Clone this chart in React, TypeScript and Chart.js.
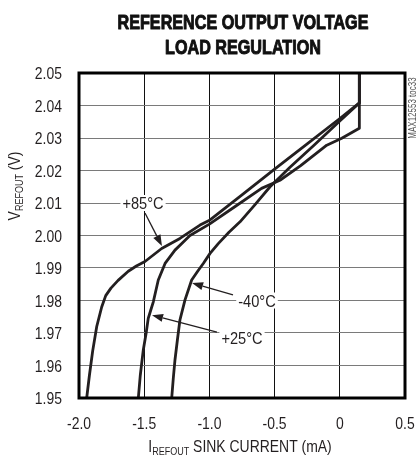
import React, { useEffect, useRef } from 'react';
import { Chart, registerables } from 'chart.js';

Chart.register(...registerables);

const FONT = "'Liberation Sans', Arial, sans-serif";
const SX = 0.82; // horizontal condensing of text (Helvetica Condensed look)

const titleLines = ['REFERENCE OUTPUT VOLTAGE', 'LOAD REGULATION'];
const sideCode = 'MAX12553 toc33';

const xTickValues = [-2.0, -1.5, -1.0, -0.5, 0, 0.5];
const xTickLabels = ['-2.0', '-1.5', '-1.0', '-0.5', '0', '0.5'];
const yTickValues = [1.95, 1.96, 1.97, 1.98, 1.99, 2.0, 2.01, 2.02, 2.03, 2.04, 2.05];
const yTickLabels = ['1.95', '1.96', '1.97', '1.98', '1.99', '2.00', '2.01', '2.02', '2.03', '2.04', '2.05'];

// +85°C
const current85 = [-1.941, -1.92, -1.895, -1.864, -1.826, -1.795, -1.755, -1.70, -1.622, -1.56, -1.494, -1.43, -1.366, -1.226, -1.072, -0.995, -0.75, -0.5, -0.25, 0.0, 0.15, 0.15];
const vout85 = [1.95, 1.957, 1.9645, 1.972, 1.978, 1.9815, 1.9838, 1.9862, 1.989, 1.9906, 1.992, 1.994, 1.996, 1.9991, 2.0032, 2.0048, 2.0125, 2.0204, 2.0282, 2.036, 2.0408, 2.05];

// +25°C
const current25 = [-1.545, -1.53, -1.507, -1.485, -1.469, -1.45, -1.43, -1.392, -1.34, -1.264, -1.2, -1.149, -1.0, -0.8, -0.6, -0.459, -0.3, -0.1, 0.015, 0.15, 0.15];
const vout25 = [1.95, 1.957, 1.9648, 1.970, 1.9745, 1.977, 1.9796, 1.9863, 1.9914, 1.9955, 1.998, 2.0, 2.0035, 2.009, 2.0145, 2.017, 2.0215, 2.0278, 2.0299, 2.033, 2.05];

// -40°C
const currentM40 = [-1.289, -1.277, -1.264, -1.245, -1.226, -1.187, -1.136, -1.09, -1.047, -0.995, -0.932, -0.85, -0.765, -0.65, -0.535, -0.382, -0.2, 0.0, 0.15, 0.15];
const voutM40 = [1.95, 1.956, 1.9617, 1.968, 1.974, 1.9802, 1.9863, 1.989, 1.9914, 1.9945, 1.9975, 2.001, 2.0042, 2.0095, 2.015, 2.021, 2.0277, 2.0352, 2.0408, 2.05];

// annotations (data units)
const labelTexts = ['+85°C', '-40°C', '+25°C'];
const labelX = [-1.509, -0.635, -0.75];
const labelY = [2.01, 1.98, 1.9685];
const arrowTailX = [-1.494, -0.819, -0.942];
const arrowTailY = [2.0069, 1.9817, 1.9703];
const arrowTipX = [-1.364, -1.133, -1.44];
const arrowTipY = [1.9968, 1.9854, 1.9755];

const LINE_COLOR = '#231f20';
const TEXT_COLOR = '#231f20';

function toPoints(xs: number[], ys: number[]) {
  return xs.map((x, i) => ({ x, y: ys[i] }));
}

function textW(ctx: CanvasRenderingContext2D, t: string, font: string, sx = SX) {
  ctx.font = font;
  return ctx.measureText(t).width * sx;
}

// draw condensed text
function drawText(
  ctx: CanvasRenderingContext2D,
  t: string,
  x: number,
  y: number,
  font: string,
  align: 'left' | 'center' | 'right',
  baseline: CanvasTextBaseline = 'alphabetic',
  sx = SX,
  strokeW = 0
) {
  ctx.save();
  ctx.font = font;
  ctx.textAlign = align;
  ctx.textBaseline = baseline;
  ctx.translate(x, y);
  ctx.scale(sx, 1);
  ctx.fillText(t, 0, 0);
  if (strokeW > 0) {
    ctx.strokeStyle = ctx.fillStyle as string;
    ctx.lineWidth = strokeW;
    ctx.lineJoin = 'round';
    ctx.strokeText(t, 0, 0);
  }
  ctx.restore();
}

function drawSubText(
  ctx: CanvasRenderingContext2D,
  parts: { t: string; sub?: boolean }[],
  cx: number,
  cy: number,
  mainSize: number,
  subSize: number
) {
  const fontMain = `${mainSize}px ${FONT}`;
  const fontSub = `${subSize}px ${FONT}`;
  const widths = parts.map((p) => textW(ctx, p.t, p.sub ? fontSub : fontMain));
  const total = widths.reduce((a, b) => a + b, 0);
  let x = cx - total / 2;
  parts.forEach((p, i) => {
    drawText(ctx, p.t, x, cy + (p.sub ? mainSize * 0.2 : 0), p.sub ? fontSub : fontMain, 'left');
    x += widths[i];
  });
}

const decorPlugin = {
  id: 'decor',
  beforeDatasetsDraw(chart: any) {
    const { ctx, scales } = chart;
    const xs = scales.x;
    const ys = scales.y;
    const font = `17px ${FONT}`;
    ctx.save();
    labelTexts.forEach((t, i) => {
      const px = xs.getPixelForValue(labelX[i]);
      const py = ys.getPixelForValue(labelY[i]);
      const w = textW(ctx, t, font, 0.86);
      ctx.fillStyle = '#ffffff';
      ctx.fillRect(px - w / 2 - 2, py - 8, w + 4, 16);
      ctx.fillStyle = TEXT_COLOR;
      drawText(ctx, t, px, py + 6, font, 'center', 'alphabetic', 0.86);
    });
    ctx.restore();
  },
  afterDatasetsDraw(chart: any) {
    const { ctx, scales, chartArea } = chart;
    const xs = scales.x;
    const ys = scales.y;
    ctx.save();
    // arrows
    ctx.strokeStyle = '#231f20';
    ctx.fillStyle = '#231f20';
    ctx.lineWidth = 1.3;
    labelTexts.forEach((_, i) => {
      const x0 = xs.getPixelForValue(arrowTailX[i]);
      const y0 = ys.getPixelForValue(arrowTailY[i]);
      const x1 = xs.getPixelForValue(arrowTipX[i]);
      const y1 = ys.getPixelForValue(arrowTipY[i]);
      const ang = Math.atan2(y1 - y0, x1 - x0);
      const hl = 11;
      const hw = 4;
      const bx = x1 - hl * Math.cos(ang);
      const by = y1 - hl * Math.sin(ang);
      ctx.beginPath();
      ctx.moveTo(x0, y0);
      ctx.lineTo(bx, by);
      ctx.stroke();
      ctx.beginPath();
      ctx.moveTo(x1, y1);
      ctx.lineTo(bx + hw * Math.sin(ang), by - hw * Math.cos(ang));
      ctx.lineTo(bx - hw * Math.sin(ang), by + hw * Math.cos(ang));
      ctx.closePath();
      ctx.fill();
    });
    // frame
    ctx.strokeStyle = '#000';
    ctx.lineWidth = 3;
    ctx.strokeRect(chartArea.left, chartArea.top, chartArea.right - chartArea.left, chartArea.bottom - chartArea.top);
    ctx.restore();
  },
  afterDraw(chart: any) {
    const { ctx, chartArea, scales } = chart;
    const cx = (chartArea.left + chartArea.right) / 2;
    ctx.save();

    // title
    ctx.fillStyle = '#111';
    const tFont = `bold 21px ${FONT}`;
    drawText(ctx, titleLines[0], cx + 1, 29, tFont, 'center', 'alphabetic', 0.77, 1);
    drawText(ctx, titleLines[1], cx + 1, 54, tFont, 'center', 'alphabetic', 0.77, 1);

    // tick labels
    ctx.fillStyle = TEXT_COLOR;
    const tickFont = `17px ${FONT}`;
    xTickValues.forEach((v, i) => {
      const px = scales.x.getPixelForValue(v);
      drawText(ctx, xTickLabels[i], px, chartArea.bottom + 31, tickFont, 'center');
    });
    yTickValues.forEach((v, i) => {
      const py = scales.y.getPixelForValue(v);
      drawText(ctx, yTickLabels[i], chartArea.left - 17, py + 6, tickFont, 'right');
    });

    // x axis title
    drawSubText(
      ctx,
      [{ t: 'I' }, { t: 'REFOUT', sub: true }, { t: ' SINK CURRENT (mA)' }],
      cx - 2,
      452,
      17,
      11
    );

    // y axis title
    ctx.save();
    ctx.translate(20, 186);
    ctx.rotate(-Math.PI / 2);
    drawSubText(ctx, [{ t: 'V' }, { t: 'REFOUT', sub: true }, { t: ' (V)' }], 0, 0, 17, 11);
    ctx.restore();

    // side code
    ctx.save();
    ctx.translate(chartArea.right + 11, chartArea.top + 35);
    ctx.rotate(-Math.PI / 2);
    ctx.fillStyle = '#555';
    drawText(ctx, sideCode, 0, 0, `10px ${FONT}`, 'center', 'alphabetic', 0.8);
    ctx.restore();

    ctx.restore();
  },
};

export default function App() {
  const ref = useRef<HTMLCanvasElement | null>(null);

  useEffect(() => {
    const canvas = ref.current;
    if (!canvas) return;
    const mk = (pts: { x: number; y: number }[], name: string) => ({
      label: name,
      data: pts,
      showLine: true,
      borderColor: LINE_COLOR,
      backgroundColor: LINE_COLOR,
      borderWidth: 2.8,
      pointRadius: 0,
      tension: 0,
      borderJoinStyle: 'round',
      borderCapStyle: 'round',
      fill: false,
    });
    const chart = new Chart(canvas, {
      type: 'scatter',
      data: {
        datasets: [
          mk(toPoints(current85, vout85), '+85°C'),
          mk(toPoints(current25, vout25), '+25°C'),
          mk(toPoints(currentM40, voutM40), '-40°C'),
        ] as any,
      },
      options: {
        responsive: false,
        animation: false,
        devicePixelRatio: 1,
        layout: { padding: { left: 0, right: 12, top: 73, bottom: 0 } },
        plugins: {
          legend: { display: false },
          tooltip: { enabled: false },
          title: { display: false },
        },
        scales: {
          x: {
            type: 'linear',
            min: -2,
            max: 0.5,
            afterBuildTicks: (s: any) => {
              s.ticks = xTickValues.map((v) => ({ value: v }));
            },
            afterFit: (s: any) => {
              s.height = 59;
            },
            grid: { color: '#111', lineWidth: 1, drawTicks: false },
            border: { display: false },
            ticks: { display: false },
          },
          y: {
            type: 'linear',
            min: 1.95,
            max: 2.05,
            afterBuildTicks: (s: any) => {
              s.ticks = yTickValues.map((v) => ({ value: v }));
            },
            afterFit: (s: any) => {
              s.width = 79;
            },
            grid: { color: '#7a7a7a', lineWidth: 1, drawTicks: false },
            border: { display: false },
            ticks: { display: false },
          },
        },
      } as any,
      plugins: [decorPlugin as any],
    });
    return () => chart.destroy();
  }, []);

  return (
    <div style={{ position: 'fixed', left: 0, top: 0, width: 417, height: 457, background: '#fff' }}>
      <canvas ref={ref} width={417} height={457} style={{ display: 'block', width: 417, height: 457 }} />
    </div>
  );
}
